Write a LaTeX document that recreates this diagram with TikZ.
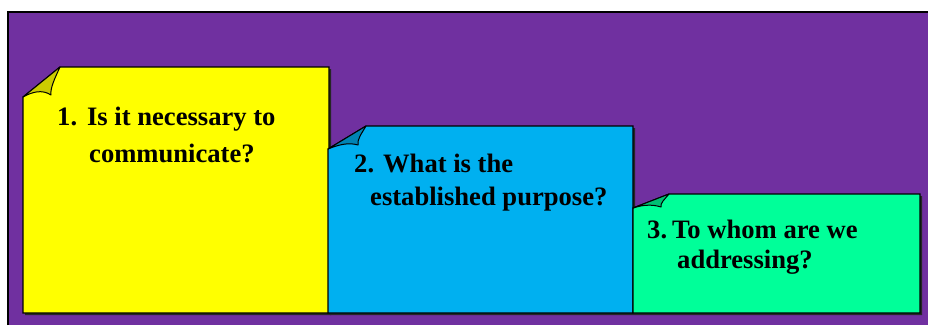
\documentclass[tikz,border=0pt]{standalone}
\usepackage{fontspec}
\setmainfont{Liberation Serif}
\usetikzlibrary{positioning}
\definecolor{frameviolet}{HTML}{7030A0}
\definecolor{noteyellow}{HTML}{FFFF00}
\definecolor{noteblue}{HTML}{00B0F0}
\definecolor{notegreen}{HTML}{00FF99}
\tikzset{
  notebody/.style={draw=black,line width=1.2pt,line join=miter},
  noteflap/.style={draw=black,line width=1pt,line join=round},
  noteshade/.style={fill=black!85},
  notetext/.style={font=\fontsize{26.6}{30}\selectfont\bfseries,
                   inner sep=0pt,anchor=base west}
}

\begin{document}
\begin{tikzpicture}[x=1pt,y=-1pt]
  \useasboundingbox (0,0) rectangle (928,325);
  \fill[white] (0,0) rectangle (928,325);
  \fill[frameviolet] (8,12) rectangle (928,325);
  \draw[line width=2pt] (8,325) -- (8,12) -- (928,12);

  % first note
  \fill[noteshade] (62,69) -- (331,69) -- (331,315) -- (25,315) -- (25,99) -- cycle;
  \path[notebody,fill=noteyellow] (60,67) -- (329,67) -- (329,313) -- (23,313) -- (23,97) -- cycle;
  \path[noteflap,fill=noteyellow!80!black] (60,67) .. controls (55,78) and (50,88) .. (51,95)
    .. controls (42,89) and (32,92) .. (23,97) -- cycle;

  % second note
  \fill[noteshade] (368,128) -- (635,128) -- (635,315) -- (330,315) -- (330,151) -- cycle;
  \path[notebody,fill=noteblue] (366,126) -- (633,126) -- (633,313) -- (328,313) -- (328,149) -- cycle;
  \path[noteflap,fill=noteblue!75!black] (366,126) .. controls (362,133) and (357,139) .. (358,145)
    .. controls (348,142) and (338,145) .. (328,149) -- cycle;

  % third note
  \fill[noteshade] (671,196) -- (922,196) -- (922,315) -- (635,315) -- (635,210) -- cycle;
  \path[notebody,fill=notegreen] (669,194) -- (920,194) -- (920,313) -- (633,313) -- (633,208) -- cycle;
  \path[noteflap,fill=notegreen!75!black] (669,194) .. controls (665,199) and (660,203) .. (661,207)
    .. controls (652,204) and (642,205) .. (633,208) -- cycle;

  \node[notetext] (q1) at (57,125) {1.\hspace{10pt}Is it necessary to};
  \node[notetext] (q1b) at (89,162) {communicate?};
  \node[notetext] (q2) at (354,172) {2.\hspace{9pt}What is the};
  \node[notetext] (q2b) at (370,205) {established purpose?};
  \node[notetext] (q3) at (647,238) {3.\hspace{5pt}To whom are we};
  \node[notetext] (q3b) at (677,268) {addressing?};
\end{tikzpicture}
\end{document}
